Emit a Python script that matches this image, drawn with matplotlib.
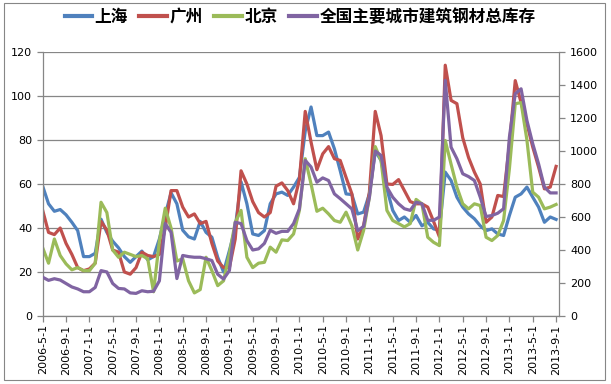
import matplotlib
matplotlib.use("Agg")
import matplotlib.pyplot as plt
from matplotlib.patches import Rectangle
import numpy as np

plt.rcParams['font.family'] = ['DejaVu Sans']

# monthly data, 2006-05 .. 2013-09 (89 months)
shanghai = [59, 51, 47.6, 48.4, 46, 42.6, 38.8, 27, 27, 28.5,
            44, 38, 34, 31, 27, 24.4, 27, 29.5, 25.5, 27,
            35, 46, 56, 51, 39, 36, 35, 43, 38, 35.8,
            26.7, 20, 29.7, 40, 61, 51, 37.3, 36.6, 38.8, 51,
            55.5, 56.3, 54.8, 58.6, 63, 84, 95, 82, 82, 83.6,
            76, 66, 55.5, 55.2, 46.4, 47.2, 55.5, 75, 70.7, 57.8,
            48, 43.4, 45, 42.6, 45.7, 41, 42.6, 39.6, 39, 65.4,
            61.6, 54, 49.5, 46.4, 44.2, 41, 38.8, 39.6, 37.3, 36.6,
            45.7, 54, 55.5, 58.6, 54, 49.5, 42.6, 45, 43.9]
guangzhou = [48, 38, 37, 40, 33, 28, 22, 20.6, 21.4, 24,
             43, 39, 30, 29, 20, 19, 22, 29, 27.5, 27,
             28, 40, 57, 57, 49.5, 45, 46.4, 42, 43, 33,
             25, 22, 22, 35, 66, 60, 52, 47, 45, 47,
             59, 60.5, 57, 51, 62, 93, 79, 66.5, 73.7, 77,
             71.5, 70.7, 63, 55.5, 35, 41, 56.3, 93, 82, 60,
             59.8, 62, 57, 52, 51, 51, 49.5, 43, 36, 114,
             98, 96.5, 81, 72, 65.4, 60, 42.6, 45, 54.8, 54.3,
             78, 107, 97, 87.4, 76.8, 67.7, 57.8, 58.6, 68]
beijing = [31, 24, 35, 27.5, 23.7, 21, 22, 20.6, 20.6, 24,
           51.7, 47, 30, 26.7, 29, 28, 27, 27.5, 26, 11,
           34, 49, 40, 25, 26, 16, 10.5, 12, 26.7, 20.6,
           13.8, 16, 28.2, 42.6, 48, 26.7, 22, 24, 24.4, 31.3,
           29, 34.6, 34.3, 37.3, 48, 71.5, 60, 47.6, 49, 46.4,
           43.4, 42.6, 47.2, 41, 30, 38.8, 54, 77, 70.7, 48,
           43.4, 42, 40.5, 42, 53, 51, 35.8, 33.5, 32, 79.8,
           69, 58.6, 51, 48.7, 51, 50.2, 35.8, 34.3, 36.6, 43.4,
           67, 96.5, 97, 80, 56.3, 54, 48.7, 49.5, 50.7]
national = [235, 216, 226, 218, 197, 176, 164, 147, 147, 173,
            275, 267, 197, 167, 164, 140, 137, 153, 147, 150,
            213, 560, 507, 227, 367, 360, 356, 356, 347, 336,
            253, 224, 275, 568, 560, 457, 400, 407, 440, 520,
            501, 513, 513, 560, 649, 943, 903, 811, 837, 821,
            740, 711, 680, 649, 517, 543, 720, 1000, 973, 781,
            720, 680, 650, 640, 690, 680, 580, 580, 600, 1428,
            1023, 953, 862, 845, 821, 720, 603, 609, 623, 650,
            1084, 1347, 1377, 1185, 1044, 922, 781, 746, 746]

tick_labels = ["2006-5-1", "2006-9-1", "2007-1-1", "2007-5-1", "2007-9-1",
               "2008-1-1", "2008-5-1", "2008-9-1", "2009-1-1", "2009-5-1",
               "2009-9-1", "2010-1-1", "2010-5-1", "2010-9-1", "2011-1-1",
               "2011-5-1", "2011-9-1", "2012-1-1", "2012-5-1", "2012-9-1",
               "2013-1-1", "2013-5-1", "2013-9-1"]
series_names = ["上海", "广州", "北京", "全国主要城市建筑钢材总库存"]

colors = ["#4F81BD", "#C0504D", "#9BBB59", "#8064A2"]
axis_col = "#868686"

fig = plt.figure(figsize=(6.11, 3.84), dpi=100)
ax = fig.add_axes([42.7 / 611, 1 - 316 / 384, (559 - 42.7) / 611, (316 - 52) / 384])
ax2 = ax.twinx()

x = np.arange(len(shanghai))
lw = 2.3
h1, = ax.plot(x, shanghai, color=colors[0], lw=lw, solid_joinstyle='round')
h2, = ax.plot(x, guangzhou, color=colors[1], lw=lw, solid_joinstyle='round')
h3, = ax.plot(x, beijing, color=colors[2], lw=lw, solid_joinstyle='round')
h4, = ax2.plot(x, national, color=colors[3], lw=lw, solid_joinstyle='round')

ax.set_xlim(0, 88.5)
ax.set_ylim(0, 120)
ax2.set_ylim(0, 1600)
ax.set_yticks(np.arange(0, 121, 20))
ax2.set_yticks(np.arange(0, 1601, 200))
ax.set_xticks(np.arange(0, 89, 4))
ax.set_xticklabels(tick_labels, rotation=90)

ax.grid(axis='y', color=axis_col, lw=0.9)
ax.set_axisbelow(True)
for a in (ax, ax2):
    a.spines['top'].set_visible(False)
    for s in ('left', 'right', 'bottom'):
        a.spines[s].set_color(axis_col)
        a.spines[s].set_linewidth(0.9)
ax.spines['right'].set_visible(False)
ax2.spines['left'].set_visible(False)
ax2.spines['bottom'].set_visible(False)

ax.tick_params(axis='both', colors=axis_col, labelcolor='black', labelsize=8,
               length=4, width=0.9, direction='out')
ax.tick_params(axis='x', pad=2)
ax2.tick_params(axis='y', colors=axis_col, labelcolor='black', labelsize=8,
                length=4, width=0.9, direction='out', pad=4)

leg = fig.legend([h1, h2, h3, h4], series_names, loc='center', ncol=4,
                 bbox_to_anchor=(0.491, 1 - 17 / 384), frameon=False,
                 prop={'family': ['Noto Sans CJK SC', 'DejaVu Sans'], 'weight': 'bold', 'size': 12},
                 handlelength=1.65, handletextpad=0.15, columnspacing=0.7)
for l in leg.get_lines():
    l.set_linewidth(3)

fig.patches.append(Rectangle((4 / 611, 1 - 380 / 384), 601 / 611, 377 / 384,
                             transform=fig.transFigure, fill=False,
                             edgecolor=axis_col, lw=0.8))

fig.savefig("out.png", dpi=100)
